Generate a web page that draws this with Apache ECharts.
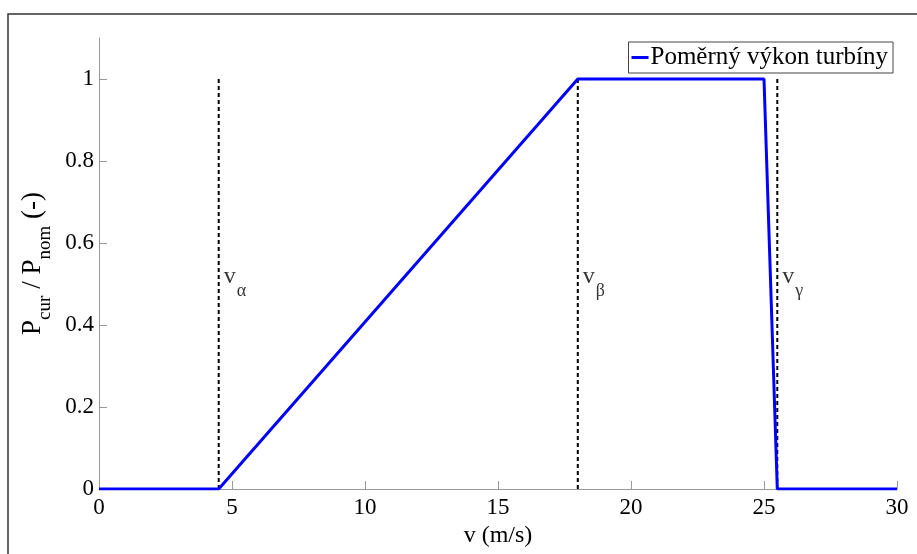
<!DOCTYPE html>
<html>
<head>
<meta charset="utf-8">
<script src="https://cdn.jsdelivr.net/npm/echarts@6/dist/echarts.min.js"></script>
<style>
  html, body { margin: 0; padding: 0; background: #fff; }
  #main { width: 917px; height: 554px; }
</style>
</head>
<body>
<div id="main"></div>
<script>
// data
var windSpeed = [0, 4.5, 18, 25, 25.5, 30];
var relPower = [0, 0, 1, 1, 0, 0];
var markSpeeds = [4.5, 18, 25.5];
var markNames = ['α', 'β', 'γ'];
var markLabelY = 0.5;
var yTicks = [0, 0.2, 0.4, 0.6, 0.8, 1];
var xTicks = [0, 5, 10, 15, 20, 25, 30];
var seriesName = 'Poměrný výkon turbíny';

var serif = '"Liberation Serif", "DejaVu Serif", serif';

var myChart = echarts.init(document.getElementById('main'));

var series = [];
// svislé čárkované čáry
markSpeeds.forEach(function (v, i) {
  series.push({
    type: 'line',
    name: 'mark' + i,
    data: [[v, 0], [v, 1]],
    symbol: 'none',
    silent: true,
    z: 1,
    lineStyle: { color: '#000', width: 2, type: [4, 3] }
  });
});
// popisky v_alpha, v_beta, v_gamma
series.push({
  type: 'scatter',
  name: 'labels',
  symbolSize: 0,
  silent: true,
  data: markSpeeds.map(function (v, i) {
    return { value: [v, markLabelY], name: markNames[i] };
  }),
  label: {
    show: true,
    position: [5, -19],
    formatter: function (p) { return '{v|v}{s|' + p.name + '}'; },
    rich: {
      v: { fontFamily: serif, fontSize: 24, color: '#000', lineHeight: 24, verticalAlign: 'top' },
      s: { fontFamily: serif, fontSize: 18, color: '#000', lineHeight: 18, padding: [17, 0, 0, 1], verticalAlign: 'top' }
    }
  }
});
series.push({
  type: 'line',
  name: seriesName,
  data: windSpeed.map(function (v, i) { return [v, relPower[i]]; }),
  symbol: 'none',
  z: 3,
  lineStyle: { color: '#0000ff', width: 3 },
  itemStyle: { color: '#0000ff' }
});

var option = {
  animation: false,
  backgroundColor: '#fff',
  graphic: [{
    type: 'rect',
    shape: { x: 8, y: 14, width: 1000, height: 1000 },
    style: { fill: 'none', stroke: '#333', lineWidth: 1.5 },
    silent: true
  }],
  grid: { left: 99, right: 20, top: 38, bottom: 65 },
  legend: {
    data: [seriesName],
    right: 24,
    top: 42,
    orient: 'vertical',
    icon: 'rect',
    itemWidth: 17,
    itemHeight: 3,
    itemGap: 0,
    padding: [3, 5, 3, 3],
    borderColor: '#444',
    borderWidth: 1,
    backgroundColor: '#fff',
    textStyle: { fontFamily: serif, fontSize: 25, color: '#000', padding: [0, 0, 0, -3] }
  },
  xAxis: {
    type: 'value',
    min: 0,
    max: 30,
    interval: 5,
    name: 'v (m/s)',
    nameLocation: 'middle',
    nameGap: 31,
    nameTextStyle: { fontFamily: serif, fontSize: 24, color: '#000' },
    axisLine: { onZero: false, lineStyle: { color: '#999', width: 1 } },
    axisTick: { inside: true, length: 8, lineStyle: { color: '#999' }, customValues: xTicks },
    axisLabel: { fontFamily: serif, fontSize: 23, color: '#000', margin: 7, customValues: xTicks },
    splitLine: { show: false }
  },
  yAxis: {
    type: 'value',
    min: 0,
    max: 1.1,
    interval: 0.2,
    name: '{m|P}{s|cur}{m| / P}{s|nom}{m| (-)}',
    nameLocation: 'middle',
    nameGap: 45,
    nameRotate: 90,
    nameTextStyle: {
      rich: {
        m: { fontFamily: serif, fontSize: 27, color: '#000', lineHeight: 27, verticalAlign: 'top' },
        s: { fontFamily: serif, fontSize: 19, color: '#000', lineHeight: 19, padding: [16, 0, 0, 0], verticalAlign: 'top' }
      }
    },
    axisLine: { show: true, onZero: false, lineStyle: { color: '#999', width: 1 } },
    axisTick: { show: true, inside: true, length: 8, lineStyle: { color: '#999' }, customValues: yTicks },
    axisLabel: { fontFamily: serif, fontSize: 23, color: '#000', margin: 5, customValues: yTicks },
    splitLine: { show: false }
  },
  series: series
};

myChart.setOption(option);
</script>
</body>
</html>
